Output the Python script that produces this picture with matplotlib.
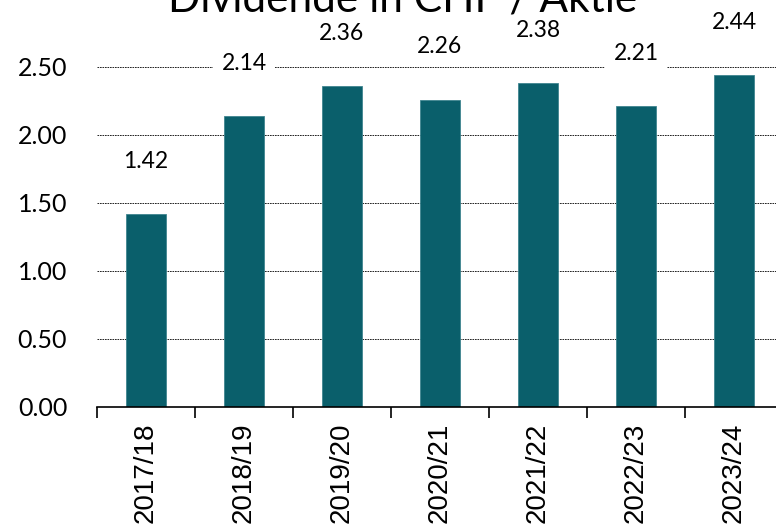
import matplotlib
matplotlib.use("Agg")
import matplotlib.pyplot as plt
import numpy as np

categories = ["2017/18", "2018/19", "2019/20", "2020/21", "2021/22", "2022/23", "2023/24"]
values = [1.42, 2.14, 2.36, 2.26, 2.38, 2.21, 2.44]
yticks = [0.0, 0.5, 1.0, 1.5, 2.0, 2.5]
title = "Dividende in CHF / Aktie"

W, H = 776, 524
fig = plt.figure(figsize=(W / 100, H / 100), dpi=100)

px_per_unit = 136.0
ytop = 2.8
x0, y0 = 97, 407
n = len(categories)
cat_w = 98
ax = fig.add_axes([x0 / W, (H - y0) / H, n * cat_w / W, ytop * px_per_unit / H])

color = "#0A5F6B"
x = np.arange(n)
ax.bar(x, values, width=0.40, color=color, edgecolor="#3F8590", linewidth=0.6, zorder=3)

ax.set_xlim(-0.5, n - 0.5)
ax.set_ylim(0, ytop)

for s in ["top", "right", "left"]:
    ax.spines[s].set_visible(False)
ax.spines["bottom"].set_color("black")
ax.spines["bottom"].set_linewidth(1.2)
ax.spines["bottom"].set_zorder(4)

ax.set_yticks(yticks)
ax.set_yticklabels([f"{v:.2f}" for v in yticks], fontfamily="Lato", fontsize=18)
ax.tick_params(axis="y", length=0, pad=21.5)
for yv in yticks[1:]:
    ax.axhline(yv, color="black", linewidth=0.6, linestyle=(0, (2.0, 1.0)), zorder=1)

ax.set_xticks(np.arange(n + 1) - 0.5, minor=False)
ax.set_xticklabels([])
ax.tick_params(axis="x", which="major", length=8, width=1.2, direction="out", color="black")
ax.set_xticks(x, minor=True)
ax.set_xticklabels(categories, minor=True, rotation=90, fontfamily="Liberation Sans", fontsize=20)
ax.tick_params(axis="x", which="minor", length=0, pad=11)

for xi, v in zip(x, values):
    ax.annotate(f"{v:.2f}", (xi, v), xytext=(0, 38), textcoords="offset points",
                ha="center", va="center", fontfamily="Lato", fontsize=16.5,
                bbox=dict(boxstyle="square,pad=0.35", fc="white", ec="none"), zorder=5)

fig.text(403 / W, (H - 11) / H, title, ha="center", va="baseline", fontfamily="Lato", fontsize=30.5)

fig.savefig("out.png", dpi=100)
